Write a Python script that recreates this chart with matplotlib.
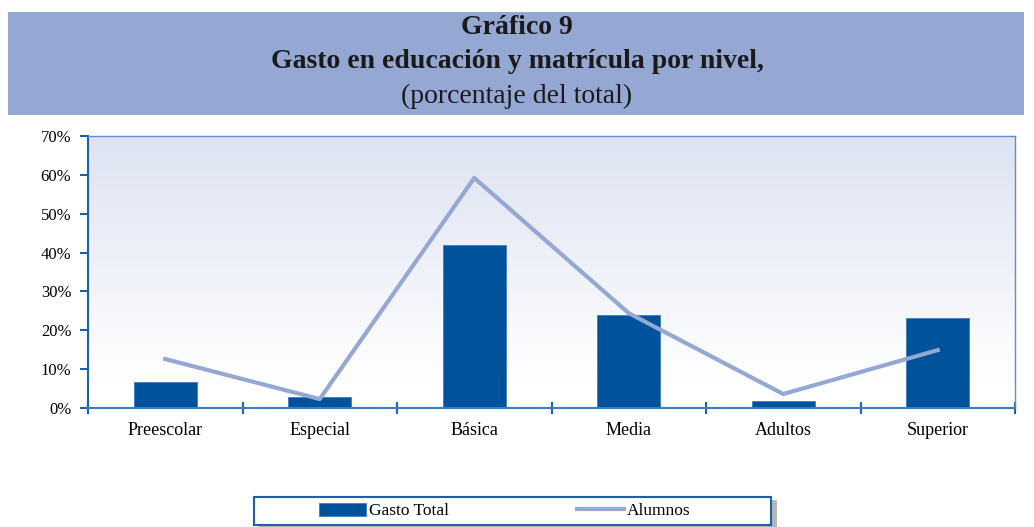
import numpy as np
import matplotlib.pyplot as plt
from matplotlib.patches import Rectangle
from matplotlib.ticker import PercentFormatter

categories = ["Preescolar", "Especial", "Básica", "Media", "Adultos", "Superior"]
gasto_total = [6.7, 2.8, 41.9, 23.9, 1.8, 23.2]
alumnos = [12.6, 2.3, 59.2, 24.4, 3.6, 14.9]

W, H = 1034, 527


def main():
    plt.rcParams['font.family'] = ['Liberation Serif', 'DejaVu Serif']
    fig = plt.figure(figsize=(W / 100, H / 100), dpi=100)

    # title band
    fig.patches.append(Rectangle((8 / W, 1 - 115 / H), 1016 / W, 103 / H,
                                 transform=fig.transFigure, facecolor="#95a7d3",
                                 edgecolor="none", zorder=0))
    fig.text(0.5, 1 - 27 / H, "Gráfico 9", ha="center", va="center",
             fontsize=20, fontweight="bold", color="#1a1a1a")
    fig.text(0.5, 1 - 61 / H, "Gasto en educación y matrícula por nivel,",
             ha="center", va="center", fontsize=20, fontweight="bold", color="#1a1a1a")
    fig.text(0.5, 1 - 96 / H, "(porcentaje del total)", ha="center", va="center",
             fontsize=20, color="#1a1a1a")

    ax = fig.add_axes([88 / W, 1 - 408 / H, 927 / W, 272 / H])
    x = np.arange(len(categories))

    # gradient background
    grad = np.linspace(0, 1, 256).reshape(-1, 1)
    grad = np.clip((grad - 0.1) / 0.9, 0, 1)
    top = np.array([0.87, 0.89, 0.95])
    img = np.ones((256, 1, 3)) * (1 - grad[..., None]) + top * grad[..., None]
    ax.imshow(img, extent=(-0.5, len(categories) - 0.5, 0, 70), origin="lower",
              aspect="auto", zorder=0)

    bars = ax.bar(x, gasto_total, width=0.41, color="#00529b", edgecolor="#3d7cc0",
                  linewidth=0.6, label="Gasto Total", zorder=2)
    line, = ax.plot(x, alumnos, color="#95a7d3", linewidth=3, label="Alumnos", zorder=3)

    ax.set_xlim(-0.5, len(categories) - 0.5)
    ax.set_ylim(0, 70)
    ax.set_yticks(np.arange(0, 71, 10))
    ax.yaxis.set_major_formatter(PercentFormatter(decimals=0))
    ax.set_xticks(x)
    ax.set_xticklabels(categories)
    ax.set_xticks(np.arange(-0.5, len(categories)), minor=True)
    ax.tick_params(axis="x", which="major", length=0, pad=10, labelsize=13)
    ax.tick_params(axis="x", which="minor", direction="inout", length=8,
                   width=1.5, color="#1f5fa8")
    ax.tick_params(axis="y", direction="out", length=6, width=1.5,
                   color="#1f5fa8", labelsize=12, pad=6)
    for s in ax.spines.values():
        s.set_color("#5b8fcb")
        s.set_linewidth(1.0)
    ax.spines["left"].set_color("#1f5fa8")
    ax.spines["left"].set_linewidth(1.5)
    ax.spines["bottom"].set_color("#3d7cc0")
    ax.spines["bottom"].set_linewidth(1.5)

    # legend frame with shadow
    fig.patches.append(Rectangle((258 / W, 1 - 527 / H), 519 / W, 27 / H,
                                 transform=fig.transFigure, facecolor="#b8b8b8",
                                 edgecolor="none", zorder=1))
    fig.patches.append(Rectangle((254 / W, 1 - 525 / H), 517 / W, 28 / H,
                                 transform=fig.transFigure, facecolor="white",
                                 edgecolor="#1f5fa8", linewidth=1.5, zorder=2))
    fig.legend([bars, line], ["Gasto Total", "Alumnos"], loc="center",
               bbox_to_anchor=(505 / W, 1 - 511 / H), ncol=2, frameon=False,
               handlelength=2.7, handleheight=0.75, fontsize=12.5,
               handletextpad=0.15, columnspacing=7.4, borderpad=0)

    fig.savefig("out.png", dpi=100)


if __name__ == '__main__':
    main()
